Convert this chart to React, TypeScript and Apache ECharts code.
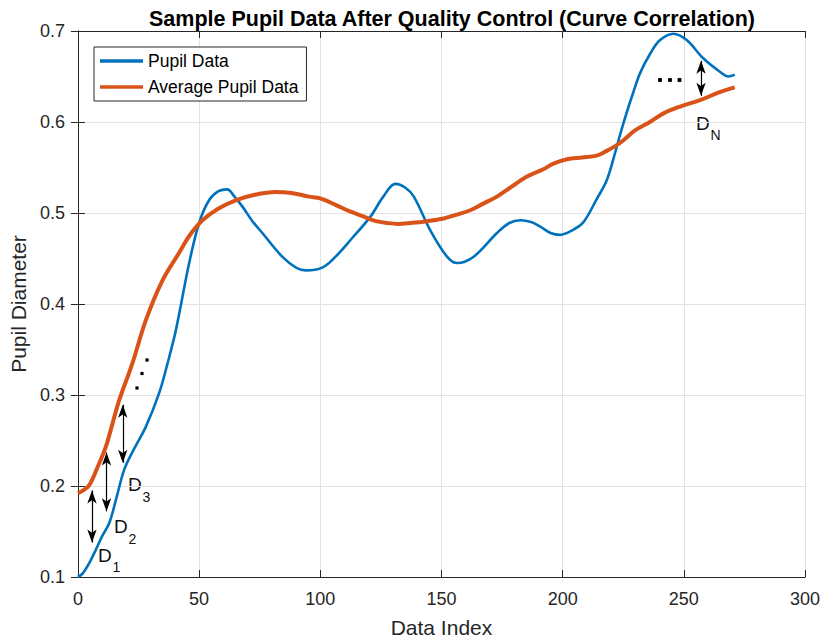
import React, { useEffect, useRef } from "react";
import * as echarts from "echarts";

// Raw pupil trace (data index, diameter)
const pupilIndex = [
  0, 2, 5, 7.4, 10, 12.9, 16, 19.1, 23, 28, 33.5, 37, 40.4, 45.9, 50, 54.1, 58,
  61.7, 64, 67.9, 72, 76.1, 84.3, 90, 94, 100.8, 106.3, 113, 120.7, 126, 131,
  135, 138.6, 145.4, 152.3, 156.4, 163.3, 172.9, 178, 182.5, 187, 190.8, 195,
  199, 204, 208.6, 214, 218.2, 221, 223.7, 226.5, 229.2, 232, 236.1, 240.2,
  245.7, 251.2, 258, 265, 268.4, 271,
];
const pupilValue = [
  0.1, 0.104, 0.117, 0.13, 0.145, 0.159, 0.188, 0.218, 0.24, 0.265, 0.302,
  0.335, 0.371, 0.445, 0.489, 0.514, 0.524, 0.526, 0.52, 0.507, 0.491, 0.478,
  0.452, 0.44, 0.437, 0.44, 0.452, 0.472, 0.496, 0.518, 0.532, 0.528, 0.518,
  0.481, 0.452, 0.445, 0.452, 0.478, 0.489, 0.492, 0.49, 0.485, 0.478, 0.476,
  0.481, 0.49, 0.515, 0.536, 0.56, 0.586, 0.611, 0.633, 0.654, 0.675, 0.69,
  0.697, 0.69, 0.67, 0.655, 0.65, 0.652,
];

// Average pupil curve (data index, diameter)
const avgIndex = [
  0, 2, 4.7, 8, 11.5, 14, 17, 22.5, 28, 34.9, 41.7, 46, 51.4, 58, 65.1, 73,
  81.6, 88, 95.3, 100, 106.3, 112, 118, 123, 127.6, 132, 137.2, 144, 150.9, 156,
  161.9, 167, 172.9, 179, 185.3, 192, 196, 201.8, 208, 214, 218, 222, 225.1,
  230, 236, 242, 248.5, 256.7, 264, 271,
];
const avgValue = [
  0.192, 0.195, 0.201, 0.22, 0.243, 0.266, 0.294, 0.335, 0.382, 0.426, 0.456,
  0.475, 0.492, 0.505, 0.514, 0.52, 0.523, 0.522, 0.518, 0.516, 0.509, 0.502,
  0.496, 0.491, 0.489, 0.488, 0.489, 0.491, 0.494, 0.498, 0.503, 0.51, 0.518,
  0.529, 0.54, 0.548, 0.554, 0.559, 0.561, 0.563, 0.568, 0.574, 0.58, 0.591,
  0.6, 0.61, 0.617, 0.624, 0.632, 0.638,
];

// Distance arrows D1, D2, D3, DN: index, upper tip, lower tip
const arrowIndex = [5.8, 11.8, 18.5, 257.1];
const arrowUpper = [0.2022, 0.244, 0.2964, 0.6744];
const arrowLower = [0.1308, 0.165, 0.2184, 0.6216];

const xMin = 0;
const xMax = 300;
const xStep = 50;
const yMin = 0.1;
const yMax = 0.7;
const yStep = 0.1;

const FONT = "Arial, 'Liberation Sans', Helvetica, sans-serif";
const AXIS_COLOR = "#262626";
const GRID_COLOR = "#e2e2e2";
const BLUE = "#0072BD";
const ORANGE = "#D95319";

const GRID = { left: 77, right: 26, top: 31, bottom: 67 };
const HEIGHT = 644;
const ARROW_H = 13;

export default function App() {
  const ref = useRef<HTMLDivElement>(null);

  useEffect(() => {
    if (!ref.current) return;
    const chart = echarts.init(ref.current, undefined, { renderer: "svg" });

    const pupilData = pupilIndex.map((x, i) => [x, pupilValue[i]]);
    const avgData = avgIndex.map((x, i) => [x, avgValue[i]]);

    // arrow symbols are centred on the line ends, so pull the ends in by half a head
    const plotH = HEIGHT - GRID.top - GRID.bottom;
    const inset = ((ARROW_H / 2) * (yMax - yMin)) / plotH;
    const arrowLines = arrowIndex.map((x, i) => [
      { coord: [x, arrowUpper[i] - inset] },
      { coord: [x, arrowLower[i] + inset] },
    ]);

    const subLabel = (main: string, sub: string, x: number, y: number) => [
      {
        type: "text",
        x,
        y,
        style: {
          text: main,
          fontSize: 19,
          fontFamily: FONT,
          fill: "#111",
          align: "left",
          verticalAlign: "middle",
        },
      },
      {
        type: "text",
        x: x + 14.5,
        y: y + 12,
        style: {
          text: sub,
          fontSize: 14,
          fontFamily: FONT,
          fill: "#111",
          align: "left",
          verticalAlign: "middle",
        },
      },
    ];

    const dot = (x: number, y: number, s: number) => ({
      type: "rect",
      shape: { x: x - s / 2, y: y - s / 2, width: s, height: s },
      style: { fill: "#000" },
    });

    const axisCommon = {
      type: "value" as const,
      axisLine: { show: true, lineStyle: { color: AXIS_COLOR, width: 1 } },
      axisTick: { show: true, inside: true, length: 7, lineStyle: { color: AXIS_COLOR } },
    };

    chart.setOption({
      animation: false,
      backgroundColor: "#fff",
      title: {
        text: "Sample Pupil Data After Quality Control (Curve Correlation)",
        left: 447,
        top: 3,
        textAlign: "center",
        textStyle: { fontSize: 21.5, fontWeight: "bold", color: "#000", fontFamily: FONT },
      },
      grid: { ...GRID, containLabel: false },
      legend: {
        orient: "vertical",
        left: 94,
        top: 47,
        padding: [5, 8, 5, 6],
        itemWidth: 43,
        itemHeight: 3.4,
        itemGap: 8,
        borderColor: AXIS_COLOR,
        borderWidth: 1,
        backgroundColor: "#fff",
        textStyle: { fontSize: 17.5, color: "#000", fontFamily: FONT },
        data: [
          { name: "Pupil Data", icon: "rect", itemStyle: { color: BLUE } },
          { name: "Average Pupil Data", icon: "rect", itemStyle: { color: ORANGE } },
        ],
      },
      xAxis: [
        {
          ...axisCommon,
          position: "bottom",
          min: xMin,
          max: xMax,
          interval: xStep,
          splitLine: { show: true, lineStyle: { color: GRID_COLOR } },
          axisLabel: { fontSize: 18, color: AXIS_COLOR, margin: 13, fontFamily: FONT },
          name: "Data Index",
          nameLocation: "middle",
          nameGap: 40,
          nameTextStyle: { fontSize: 21, color: AXIS_COLOR, fontFamily: FONT },
        },
        {
          ...axisCommon,
          position: "top",
          min: xMin,
          max: xMax,
          interval: xStep,
          splitLine: { show: false },
          axisLabel: { show: false },
        },
      ],
      yAxis: [
        {
          ...axisCommon,
          position: "left",
          min: yMin,
          max: yMax,
          interval: yStep,
          splitLine: { show: true, lineStyle: { color: GRID_COLOR } },
          axisLabel: {
            fontSize: 18,
            color: AXIS_COLOR,
            margin: 13,
            fontFamily: FONT,
            formatter: (v: number) => v.toFixed(1),
          },
          name: "Pupil Diameter",
          nameLocation: "middle",
          nameGap: 46,
          nameTextStyle: { fontSize: 21, color: AXIS_COLOR, fontFamily: FONT },
        },
        {
          ...axisCommon,
          position: "right",
          min: yMin,
          max: yMax,
          interval: yStep,
          splitLine: { show: false },
          axisLabel: { show: false },
        },
      ],
      series: [
        {
          name: "Pupil Data",
          type: "line",
          data: pupilData,
          smooth: 0.35,
          symbol: "none",
          lineStyle: { color: BLUE, width: 2.6 },
          itemStyle: { color: BLUE },
          z: 2,
          markLine: {
            silent: true,
            animation: false,
            symbol: ["arrow", "arrow"],
            symbolSize: [7, ARROW_H],
            label: { show: false },
            emphasis: { disabled: true },
            lineStyle: { color: "#000", width: 1.2, type: "solid" },
            data: arrowLines,
          },
        },
        {
          name: "Average Pupil Data",
          type: "line",
          data: avgData,
          smooth: 0.35,
          symbol: "none",
          lineStyle: { color: ORANGE, width: 4 },
          itemStyle: { color: ORANGE },
          z: 3,
        },
      ],
      graphic: [
        ...subLabel("D", "1", 98, 555),
        ...subLabel("D", "2", 114, 526.5),
        ...subLabel("D", "3", 128, 484.5),
        ...subLabel("D", "N", 696, 123),
        dot(137, 388, 3.2),
        dot(142, 373.5, 3.2),
        dot(147, 360, 3.2),
        dot(660, 80, 3.8),
        dot(670, 80, 3.8),
        dot(679.5, 80, 3.8),
      ],
    });

    return () => chart.dispose();
  }, []);

  return (
    <div
      ref={ref}
      style={{ position: "fixed", left: 0, top: 0, width: 831, height: HEIGHT, background: "#fff" }}
    />
  );
}
